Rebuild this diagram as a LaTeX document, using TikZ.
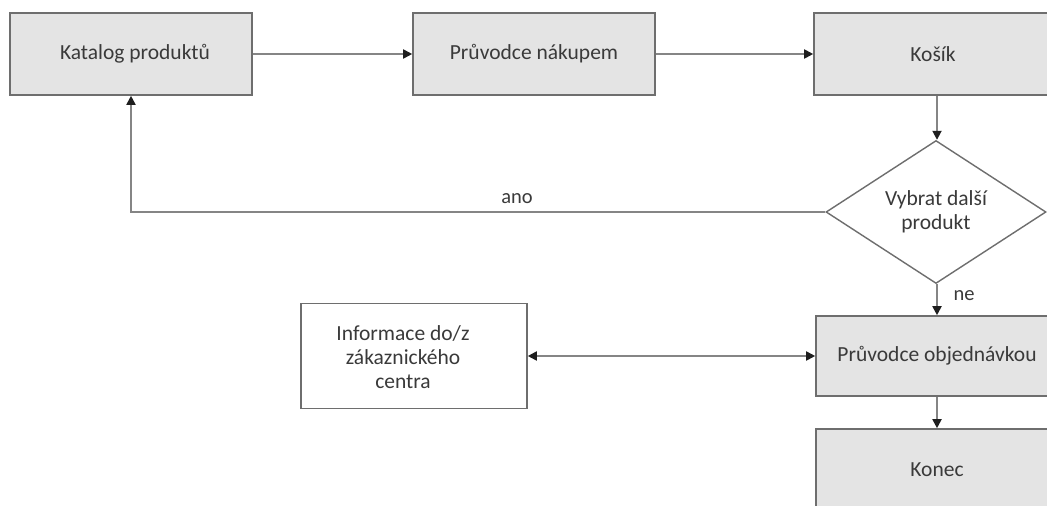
\documentclass[tikz,border=0pt]{standalone}
\usepackage{fontspec}
\setmainfont{Carlito}
\usetikzlibrary{arrows.meta,shapes.geometric}
\definecolor{boxfill}{HTML}{E4E4E4}
\definecolor{boxline}{HTML}{6E6E6E}
\definecolor{txt}{HTML}{3A3A3A}
\definecolor{conn}{HTML}{858585}
\definecolor{tipc}{HTML}{1E1E1E}
\begin{document}
\begin{tikzpicture}[x=1pt,y=-1pt,
  every node/.style={font=\fontsize{21.5}{24}\selectfont, text=txt},
  procbox/.style={draw=boxline, line width=1.6pt, fill=boxfill, rectangle, inner sep=0pt,
    minimum width=242pt, minimum height=82pt, align=center},
  infobox/.style={draw=boxline, line width=1.6pt, fill=white, rectangle, inner sep=0pt,
    minimum width=226pt, minimum height=105pt},
  decision/.style={draw=boxline, line width=1.4pt, fill=white, diamond, shape aspect=1.53,
    inner sep=0pt, minimum width=220pt, minimum height=143pt, align=center},
  conline/.style={draw=conn, line width=1.8pt, -{Triangle[length=9pt,width=9pt,color=tipc]}},
  biline/.style={draw=conn, line width=1.8pt, {Triangle[length=9pt,width=9pt,color=tipc]}-{Triangle[length=9pt,width=9pt,color=tipc]}},
  lbl/.style={font=\fontsize{20.5}{24}\selectfont, inner sep=0pt}
]
\useasboundingbox (0,0) rectangle (1047,506);
\fill[white] (0,0) rectangle (1047,506);
\clip (0,0) rectangle (1047,506);

\node[procbox] (kat) at (131,54) {\hspace*{8pt}Katalog produktů};
\node[procbox] (pn) at (534,54) {Průvodce nákupem};
\node[procbox, minimum width=246pt] (kos) at (937,54) {\hspace*{-8pt}Košík};
\node[decision] (dia) at (936,212) {Vybrat další\\produkt};
\node[procbox, minimum height=80pt] (po) at (937,356) {\raisebox{-4pt}{Průvodce objednávkou}};
\node[procbox] (kon) at (937,470) {Konec};
\node[infobox] (info) at (414,356) {};
\node[align=center, inner sep=0pt] (infotxt) at (403,357) {Informace do/z\\zákaznického\\centra};

\draw[conline] (kat.east) -- (pn.west);
\draw[conline] (pn.east) -- (kos.west);
\draw[conline] (kos.south) -- (kos.south |- dia.north);
\draw[conline] (dia.west) -- (kat.south |- dia.west) -- (kat.south);
\node[lbl] (ano) at (517,199) {ano};
\draw[conline] (dia.south -| po.north) -- (po.north);
\node[lbl] (ne) at (964,296) {ne};
\draw[biline] (info.east) -- (po.west);
\draw[conline] (po.south) -- (kon.north);
\end{tikzpicture}
\end{document}
